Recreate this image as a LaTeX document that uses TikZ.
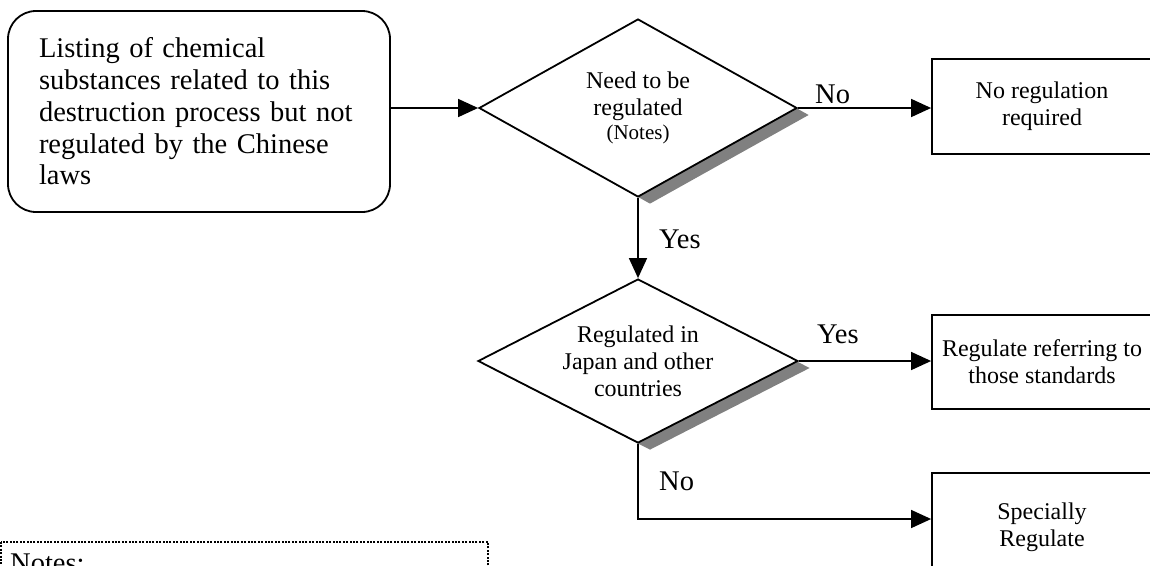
\documentclass[tikz,border=0pt]{standalone}
\usepackage{fontspec}
\setmainfont{Liberation Serif}
\usetikzlibrary{arrows.meta,shapes.geometric,shadows}
\tikzset{
	bigtext/.style={font=\fontsize{28.5}{31.7}\selectfont},
	startbox/.style={draw,line width=1.8pt,rounded corners=28pt,minimum width=382pt,minimum height=201pt,text width=320pt,align=left,bigtext},
	decision/.style={diamond,draw,line width=1.8pt,fill=white,inner sep=0pt,align=center,font=\fontsize{24}{27}\selectfont,drop shadow={shadow xshift=12pt,shadow yshift=-7pt,opacity=1,fill=gray}},
	outcome/.style={draw,line width=1.8pt,minimum width=220pt,align=center,font=\fontsize{24}{27}\selectfont},
	flow/.style={line width=1.5pt,-{Triangle[length=20pt,width=18pt]}},
	answer/.style={bigtext,inner sep=0pt,anchor=base west}
}
\begin{document}
\begin{tikzpicture}[x=1pt,y=-1pt]
	\useasboundingbox (0,0) rectangle (1150,565);
	\clip (0,0) rectangle (1150,565);
	\node [startbox] (listing) at (199,111.5) {Listing of chemical\\substances related to this\\destruction process but not\\regulated by the Chinese\\laws};
	\node [decision,aspect=1.79,minimum width=318pt,minimum height=178pt] (need) at (638,108) {Need to be\\regulated\\[-3pt]{\fontsize{21}{24}\selectfont(Notes)}};
	\node [decision,aspect=1.95,minimum width=320pt,minimum height=164pt] (japan) at (638,361) {Regulated in\\Japan and other\\countries};
	\node [outcome,minimum height=95pt] (noreg) at (1042,106.5) {No regulation\\required};
	\node [outcome,minimum height=94pt] (refer) at (1042,362) {Regulate referring to\\those standards};
	\node [outcome,minimum height=108pt] (special) at (1042,527) {Specially\\Regulate};
	\coordinate (turn) at (638,519);
	\draw [flow] (listing.east |- need.west) -- (need.west);
	\draw [flow] (need.east) -- (need.east -| noreg.west);
	\draw [flow] (need.south) -- (japan.north);
	\draw [flow] (japan.east) -- (japan.east -| refer.west);
	\draw [flow] (japan.south) -- (turn) -- (turn -| special.west);
	\node [answer] (no1) at (815,103) {No};
	\node [answer] (yes1) at (659,248) {Yes};
	\node [answer] (yes2) at (817,343) {Yes};
	\node [answer] (no2) at (659,490) {No};
	\draw [line width=2pt,dash pattern=on 2pt off 1.4pt] (1,542) rectangle (488,640);
	\node [answer] (notes) at (10,572) {Notes:};
\end{tikzpicture}
\end{document}
